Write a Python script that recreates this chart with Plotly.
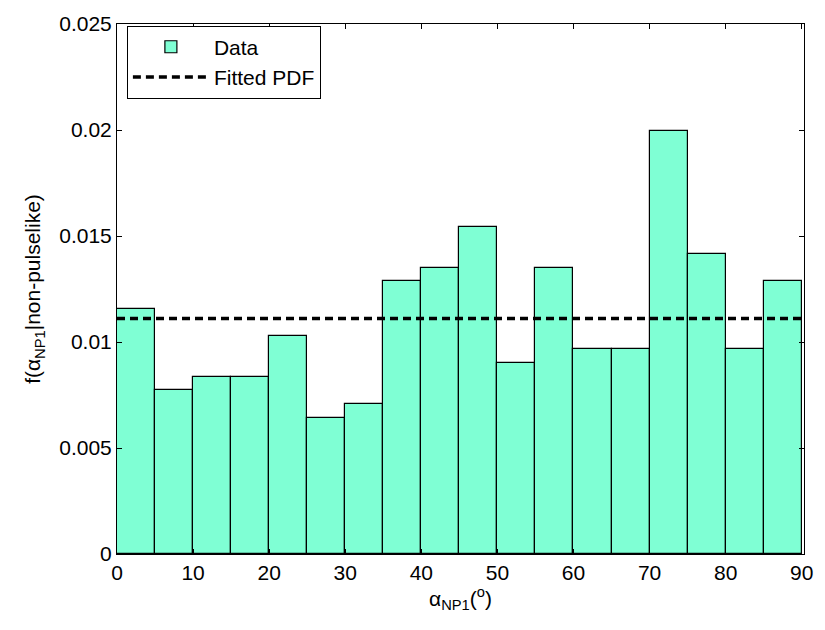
import plotly.graph_objects as go

bin_left = [0, 5, 10, 15, 20, 25, 30, 35, 40, 45, 50, 55, 60, 65, 70, 75, 80, 85]
density = [0.01158, 0.00772, 0.00836, 0.00836, 0.01029, 0.00643, 0.00707, 0.01286, 0.01350,
           0.01543, 0.00900, 0.01350, 0.00965, 0.00965, 0.01994, 0.01415, 0.00965, 0.01286]
bin_width = 5
fit_x = [0, 90]
fit_y = [1 / 90, 1 / 90]

y_ticks = [0, 0.005, 0.01, 0.015, 0.02, 0.025]
y_ticktext = ["0", "0.005", "0.01", "0.015", "0.02", "0.025"]
x_ticks = [0, 10, 20, 30, 40, 50, 60, 70, 80, 90]

FONT = "Liberation Sans, Arial, sans-serif"

fig = go.Figure()
fig.add_trace(go.Bar(
    x=[b + bin_width / 2 for b in bin_left], y=density, width=bin_width,
    marker=dict(color="#7FFFD4", line=dict(color="black", width=1.2)),
    name="Data",
))
fig.add_trace(go.Scatter(
    x=fit_x, y=fit_y, mode="lines",
    line=dict(color="black", width=3.5, dash="8px,5px"),
    name="Fitted PDF",
))

fig.update_layout(
    width=825, height=630,
    margin=dict(l=117, r=15, t=14, b=76),
    paper_bgcolor="white", plot_bgcolor="white",
    font=dict(family=FONT, size=21, color="black"),
    bargap=0,
    showlegend=True,
    legend=dict(x=0.0144, y=0.997, xanchor="left", yanchor="top",
                bordercolor="black", borderwidth=1, bgcolor="white",
                font=dict(size=21), tracegroupgap=0, itemwidth=76),
    xaxis=dict(range=[0, 90.3], tickvals=x_ticks, ticks="inside", ticklen=5,
               tickcolor="black", showline=True, linecolor="black", linewidth=1,
               mirror="ticks", showgrid=False, zeroline=False,
               tickfont=dict(size=21),
               title=dict(text="α<sub>NP1</sub>(<sup>o</sup>)", standoff=6,
                          font=dict(size=21))),
    yaxis=dict(range=[0, 0.025], tickvals=y_ticks, ticktext=y_ticktext,
               ticks="inside", ticklen=5, tickcolor="black",
               showline=True, linecolor="black", linewidth=1,
               mirror="ticks", showgrid=False, zeroline=False,
               tickfont=dict(size=21),
               title=dict(text="f(α<sub>NP1</sub>|non-pulselike)", standoff=12,
                          font=dict(size=21))),
)

fig.write_html("out.html")
